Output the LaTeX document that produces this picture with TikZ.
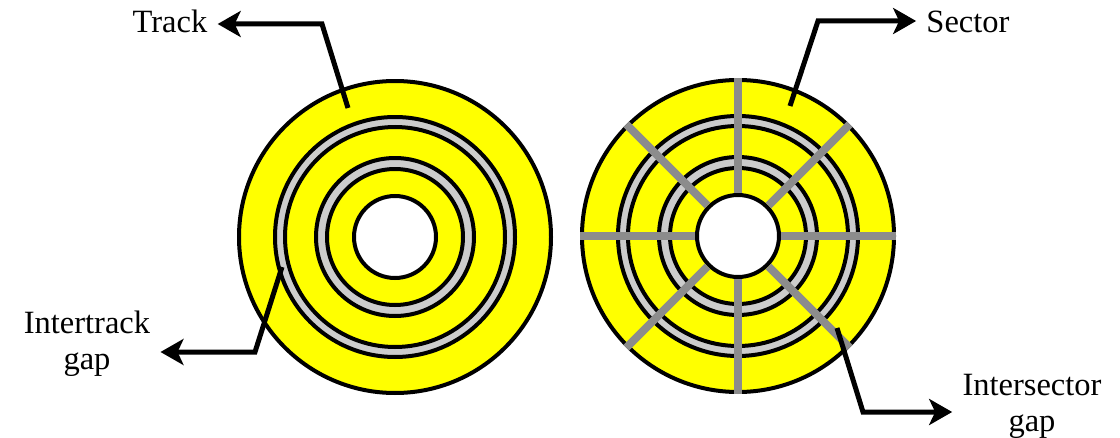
\documentclass[tikz,border=0pt]{standalone}
\usepackage{fontspec}
\setmainfont{Liberation Serif}
\usetikzlibrary{arrows.meta,calc}
\definecolor{diskyellow}{RGB}{255,255,0}
\definecolor{gapgray}{RGB}{204,204,204}
\definecolor{sectgray}{RGB}{140,140,140}
\tikzset{
  disk/.style={draw=black, line width=0.08cm, fill=diskyellow},
  gapring/.style={draw=black, line width=0.08cm, fill=gapgray, even odd rule},
  hole/.style={draw=black, line width=0.08cm, fill=white},
  sectline/.style={draw=sectgray, line width=0.16cm},
  callout/.style={line width=0.1cm, -{Stealth[length=0.46cm,width=0.52cm,inset=0.12cm]}},
  lbl/.style={font=\fontsize{18.5}{20.5}\selectfont, align=center, inner xsep=0.2cm, inner ysep=0pt}
}
\begin{document}
\begin{tikzpicture}[x=0.02cm, y=0.02cm]
    \useasboundingbox (0,0) rectangle (1120,437);

    \coordinate (L) at (395,200);
    \coordinate (R) at (738,201);
    \foreach \c in {L,R}{
        \path[disk] (\c) circle (156);
        \path[gapring] (\c) circle (120) (\c) circle (110);
        \path[gapring] (\c) circle (79) (\c) circle (68);
        \path[hole] (\c) circle (41);
    }
    \foreach \a in {0,45,...,315}
        \draw[sectline] ($(R)+(\a:43)$) -- ($(R)+(\a:158)$);

    \node[lbl] (trk) at (170,416) {Track};
    \node[lbl] (itg) at (87,93) {Intertrack\\gap};
    \node[lbl] (sec) at (968,415) {Sector};
    \node[lbl] (isg) at (1032,31) {Intersector\\gap};

    \coordinate (trkpt) at (348,329);
    \coordinate (trkbend) at (322,413);
    \coordinate (itgpt) at (282,170);
    \coordinate (itgbend) at (255,85);
    \coordinate (secpt) at (790,331);
    \coordinate (secbend) at (818,416);
    \coordinate (isgpt) at (837,109);
    \coordinate (isgbend) at (863,25);

    \draw[callout] (trkpt) -- (trkbend) -- (trkbend -| trk.east);
    \draw[callout] (itgpt) -- (itgbend) -- (itgbend -| itg.east);
    \draw[callout] (secpt) -- (secbend) -- (secbend -| sec.west);
    \draw[callout] (isgpt) -- (isgbend) -- (isgbend -| isg.west);
\end{tikzpicture}
\end{document}
